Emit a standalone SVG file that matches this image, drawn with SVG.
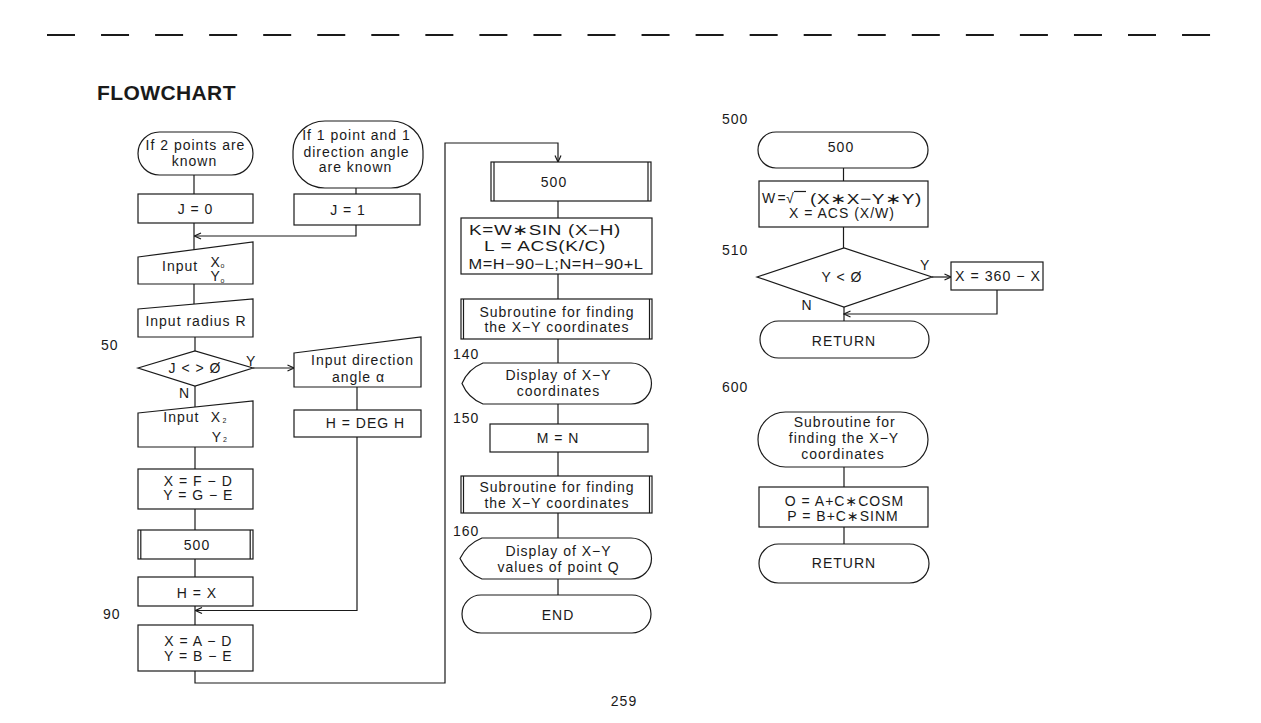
<svg xmlns="http://www.w3.org/2000/svg" width="1261" height="723" viewBox="0 0 1261 723">
<style>
  .s{fill:#fff;stroke:#1a1a1a;stroke-width:1.2}
  .c{fill:none;stroke:#1a1a1a;stroke-width:1.2}
  .t{font-family:"Liberation Sans",Arial,"DejaVu Sans",sans-serif;font-size:14px;letter-spacing:1px;fill:#1a1a1a;text-anchor:middle}
  .l{font-family:"Liberation Sans",Arial,"DejaVu Sans",sans-serif;font-size:14px;letter-spacing:1px;fill:#1a1a1a}
  .sub{font-size:7px}
  .big{font-size:15px;letter-spacing:0.5px}
</style>
<defs>
  <marker id="ah" markerUnits="userSpaceOnUse" markerWidth="8" markerHeight="8" refX="7" refY="4" orient="auto">
    <path d="M0.5,1 L7,4 L0.5,7" fill="none" stroke="#1a1a1a" stroke-width="1.2"/>
  </marker>
</defs>
<rect width="1261" height="723" fill="#fff"/>

<line x1="47" y1="35" x2="1212" y2="35" stroke="#1a1a1a" stroke-width="1.8" stroke-dasharray="28 26.05"/>
<text x="97" y="100" font-family="Liberation Sans,Arial,sans-serif" font-size="21" font-weight="bold" letter-spacing="0.4" fill="#1a1a1a">FLOWCHART</text>

<g id="labels">
  <text class="l" x="101" y="350">50</text>
  <text class="l" x="103" y="619">90</text>
  <text class="l" x="453" y="359">140</text>
  <text class="l" x="453" y="423">150</text>
  <text class="l" x="453" y="536">160</text>
  <text class="l" x="722" y="124">500</text>
  <text class="l" x="722" y="255">510</text>
  <text class="l" x="722" y="392">600</text>
  <text class="t" x="624" y="706">259</text>
</g>

<g id="connectors">
  <line class="c" x1="194" y1="175" x2="194" y2="194"/>
  <line class="c" x1="356" y1="188" x2="356" y2="194"/>
  <line class="c" x1="194" y1="223" x2="194" y2="250"/>
  <polyline class="c" points="356,225 356,236 194.5,236" marker-end="url(#ah)"/>
  <line class="c" x1="194" y1="284" x2="194" y2="304"/>
  <line class="c" x1="195" y1="337" x2="195" y2="351"/>
  <line class="c" x1="253" y1="368" x2="294" y2="368" marker-end="url(#ah)"/>
  <line class="c" x1="195" y1="386" x2="195" y2="407"/>
  <line class="c" x1="357" y1="387" x2="357" y2="410"/>
  <line class="c" x1="195" y1="447" x2="195" y2="469"/>
  <line class="c" x1="195" y1="509" x2="195" y2="530"/>
  <line class="c" x1="195" y1="559" x2="195" y2="577"/>
  <line class="c" x1="195" y1="606" x2="195" y2="625"/>
  <polyline class="c" points="357,437 357,610.5 195.5,610.5" marker-end="url(#ah)"/>
  <polyline class="c" points="195,671 195,683 445,683 445,143 558,143 558,162" marker-end="url(#ah)"/>
  <line class="c" x1="558" y1="201" x2="558" y2="218"/>
  <line class="c" x1="558" y1="274" x2="558" y2="299"/>
  <line class="c" x1="558" y1="339" x2="558" y2="363"/>
  <line class="c" x1="558" y1="404" x2="558" y2="424"/>
  <line class="c" x1="558" y1="452" x2="558" y2="476"/>
  <line class="c" x1="558" y1="513" x2="558" y2="538"/>
  <line class="c" x1="558" y1="579" x2="558" y2="595"/>
  <line class="c" x1="843.5" y1="168" x2="843.5" y2="181"/>
  <line class="c" x1="843.5" y1="227" x2="843.5" y2="248"/>
  <line class="c" x1="932" y1="277" x2="951" y2="277" marker-end="url(#ah)"/>
  <polyline class="c" points="997,290 997,314 844,314" marker-end="url(#ah)"/>
  <line class="c" x1="844" y1="307" x2="844" y2="321"/>
  <line class="c" x1="844" y1="467" x2="844" y2="487"/>
  <line class="c" x1="844" y1="527" x2="844" y2="544"/>
</g>

<g id="start2">
  <rect class="s" x="138" y="132" width="115" height="43" rx="21.5"/>
  <text class="t" x="195.5" y="150">If 2 points are</text>
  <text class="t" x="194.5" y="165.7">known</text>
</g>
<g id="start1">
  <rect class="s" x="293" y="121" width="130" height="67" rx="32" ry="30"/>
  <text class="t" x="356.5" y="140">If 1 point and 1</text>
  <text class="t" x="356.5" y="156.7">direction angle</text>
  <text class="t" x="355.5" y="172.3">are known</text>
</g>
<g id="j0">
  <rect class="s" x="138" y="194" width="115" height="29"/>
  <text class="t" x="195.5" y="213.7">J = 0</text>
</g>
<g id="j1">
  <rect class="s" x="294" y="194" width="126" height="31"/>
  <text class="t" x="348" y="214.5">J = 1</text>
</g>
<g id="inputXo">
  <polygon class="s" points="138,257 253,242 253,284 138,284"/>
  <text class="l" x="162" y="270.5">Input</text>
  <text class="l" font-size="12.5"><tspan x="210.5" y="267">X</tspan><tspan class="sub" x="220.5" y="268">o</tspan></text>
  <text class="l" font-size="12.5"><tspan x="210.5" y="281">Y</tspan><tspan class="sub" x="220.5" y="282.5">o</tspan></text>
</g>
<g id="inputR">
  <polygon class="s" points="138,309 253,299 253,337 138,337"/>
  <text class="t" x="196" y="326">Input radius R</text>
</g>
<g id="d50">
  <polygon class="s" points="138,368 195,351 253,368 195,386"/>
  <text class="t" x="195" y="373">J &lt; &gt; Ø</text>
  <text class="l" x="246" y="365.7">Y</text>
  <text class="l" x="179" y="398">N</text>
</g>
<g id="inputAngle">
  <polygon class="s" points="294,353 421,337 421,387 294,387"/>
  <text class="t" x="362.5" y="365">Input direction</text>
  <text class="t" x="358.5" y="381.7">angle α</text>
</g>
<g id="hdeg">
  <rect class="s" x="294" y="410" width="127" height="27"/>
  <text class="t" x="365.5" y="428.3">H = DEG H</text>
</g>
<g id="inputX2">
  <polygon class="s" points="138,413 253,401 253,447 138,447"/>
  <text class="l" x="163.3" y="421.7">Input</text>
  <text class="l"><tspan x="210.7" y="421.7">X</tspan><tspan class="sub" x="222.5" y="423">2</tspan></text>
  <text class="l"><tspan x="211.7" y="441.7">Y</tspan><tspan class="sub" x="223" y="442">2</tspan></text>
</g>
<g id="xfd">
  <rect class="s" x="138" y="469" width="115" height="40"/>
  <text class="t" x="198.3" y="485.7">X = F − D</text>
  <text class="t" x="198.3" y="500">Y = G − E</text>
</g>
<g id="sub500a">
  <rect class="s" x="138" y="530" width="115" height="29"/>
  <line class="c" x1="140.8" y1="530" x2="140.8" y2="559"/>
  <line class="c" x1="250.2" y1="530" x2="250.2" y2="559"/>
  <text class="t" x="197" y="550">500</text>
</g>
<g id="hx">
  <rect class="s" x="138" y="577" width="115" height="29"/>
  <text class="t" x="197" y="598.3">H = X</text>
</g>
<g id="xad">
  <rect class="s" x="138" y="625" width="115" height="46"/>
  <text class="t" x="198.3" y="645.7">X = A − D</text>
  <text class="t" x="198.3" y="661">Y = B − E</text>
</g>

<g id="sub500b">
  <rect class="s" x="491" y="162" width="160" height="39"/>
  <line class="c" x1="494" y1="162" x2="494" y2="201"/>
  <line class="c" x1="648" y1="162" x2="648" y2="201"/>
  <text class="t" x="554" y="186.7">500</text>
</g>
<g id="kbox">
  <rect class="s" x="461" y="218" width="191" height="56"/>
  <text class="t big" x="545" y="234.5" textLength="152" lengthAdjust="spacingAndGlyphs">K=W∗SIN (X−H)</text>
  <text class="t big" x="545" y="251.2" textLength="122" lengthAdjust="spacingAndGlyphs">L = ACS(K/C)</text>
  <text class="t big" x="556" y="268.5" textLength="175" lengthAdjust="spacingAndGlyphs">M=H−90−L;N=H−90+L</text>
</g>
<g id="subXY1">
  <rect class="s" x="461" y="299" width="191" height="40"/>
  <line class="c" x1="463.5" y1="299" x2="463.5" y2="339"/>
  <line class="c" x1="649.5" y1="299" x2="649.5" y2="339"/>
  <text class="t" x="557" y="316.7">Subroutine for finding</text>
  <text class="t" x="557" y="331.7">the X−Y coordinates</text>
</g>
<g id="disp1">
  <path class="s" d="M483,363 H631 A20.5,20.5 0 0 1 631,404 H483 Q468,398 462,383.5 Q468,369 483,363 Z"/>
  <text class="t" x="558.5" y="380">Display of X−Y</text>
  <text class="t" x="558.5" y="395.7">coordinates</text>
</g>
<g id="mn">
  <rect class="s" x="490" y="424" width="158" height="28"/>
  <text class="t" x="558" y="443.3">M = N</text>
</g>
<g id="subXY2">
  <rect class="s" x="461" y="476" width="191" height="37"/>
  <line class="c" x1="463.5" y1="476" x2="463.5" y2="513"/>
  <line class="c" x1="649.5" y1="476" x2="649.5" y2="513"/>
  <text class="t" x="557" y="491.7">Subroutine for finding</text>
  <text class="t" x="557" y="507.7">the X−Y coordinates</text>
</g>
<g id="disp2">
  <path class="s" d="M482,538 H631 A20.5,20.5 0 0 1 631,579 H482 Q467,573 460,558.5 Q467,544 482,538 Z"/>
  <text class="t" x="558.5" y="555.7">Display of X−Y</text>
  <text class="t" x="558.5" y="572.3">values of point Q</text>
</g>
<g id="end">
  <rect class="s" x="462" y="595" width="189" height="38" rx="19"/>
  <text class="t" x="558" y="620">END</text>
</g>

<g id="start500">
  <rect class="s" x="758" y="132" width="170" height="36" rx="18"/>
  <text class="t" x="841" y="152.3">500</text>
</g>
<g id="wbox">
  <rect class="s" x="759" y="181" width="169" height="46"/>
  <text class="l" x="762" y="203.3" letter-spacing="0">W</text>
  <text class="l" x="777.5" y="203.3" letter-spacing="0">=</text>
  <text class="l" x="786" y="203.3" letter-spacing="0">√</text>
  <line class="c" x1="794" y1="191.5" x2="806" y2="191.5"/>
  <text class="l big" x="810" y="203.5" textLength="112" lengthAdjust="spacingAndGlyphs">(X∗X−Y∗Y)</text>
  <text class="t" x="842" y="218.3">X = ACS (X/W)</text>
</g>
<g id="d510">
  <polygon class="s" points="757,277 844,248 932,277 844,307"/>
  <text class="t" x="842" y="282">Y &lt; Ø</text>
  <text class="l" x="920" y="270">Y</text>
  <text class="l" x="801.5" y="310">N</text>
</g>
<g id="x360">
  <rect class="s" x="951" y="262" width="92" height="28"/>
  <text class="t" x="998" y="280.7" textLength="86" lengthAdjust="spacingAndGlyphs">X = 360 − X</text>
</g>
<g id="return1">
  <rect class="s" x="760" y="321" width="169" height="37" rx="18.5"/>
  <text class="t" x="844" y="345.7">RETURN</text>
</g>
<g id="start600">
  <rect class="s" x="758" y="412" width="170" height="55" rx="27.5"/>
  <text class="t" x="844.7" y="426.7">Subroutine for</text>
  <text class="t" x="844" y="443.3">finding the X−Y</text>
  <text class="t" x="843" y="459">coordinates</text>
</g>
<g id="obox">
  <rect class="s" x="759" y="487" width="169" height="40"/>
  <text class="t" x="844.5" y="506">O = A+C∗COSM</text>
  <text class="t" x="843" y="520.7">P = B+C∗SINM</text>
</g>
<g id="return2">
  <rect class="s" x="759" y="544" width="170" height="39" rx="19.5"/>
  <text class="t" x="844" y="568.3">RETURN</text>
</g>
</svg>
